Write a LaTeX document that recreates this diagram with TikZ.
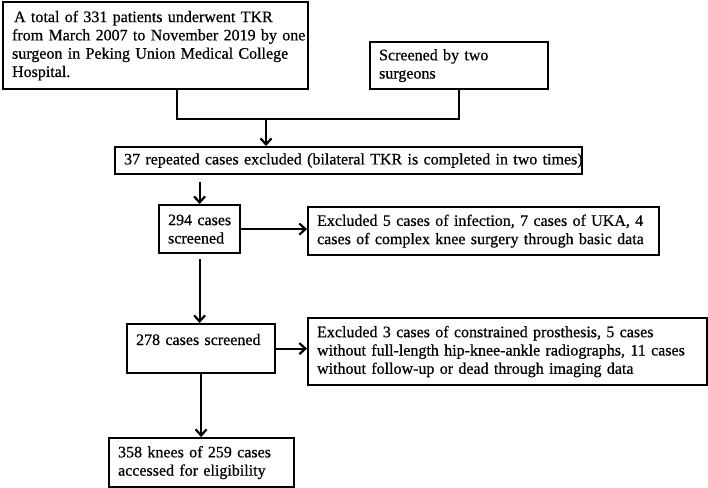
\documentclass[tikz,border=0pt]{standalone}
\usepackage{fontspec}
\setmainfont{Liberation Serif}[FakeBold=0.6]
\usetikzlibrary{arrows.meta,calc}
\begin{document}
\begin{tikzpicture}[x=1pt,y=-1pt,
  box/.style={draw=black, line width=2.2pt, anchor=north west, inner xsep=9pt, inner ysep=2pt,
    align=left, font=\fontsize{16}{18.3}\selectfont},
  conn/.style={line width=2.2pt},
  arr/.style={conn, -{Straight Barb[length=6pt,width=11pt]}}
]
\useasboundingbox (0,0) rectangle (708,487);
\node[box, minimum height=87pt, text width=287pt] (b1) at (2,1)
  {\mbox{\hspace{2pt}A total of 331 patients underwent TKR}\\ \mbox{from March 2007 to November 2019 by one}\\ \mbox{surgeon in Peking Union Medical College}\\ \mbox{Hospital.}};
\node[box, minimum height=47pt, text width=160pt] (b2) at (369,41)
  {\mbox{Screened by two}\\ \mbox{surgeons}};
\node[box, minimum height=27pt, text width=449pt] (b3) at (114,146)
  {\mbox{37 repeated cases excluded (bilateral TKR is completed in two times)}};
\node[box, minimum height=48pt, text width=63pt] (b4) at (158,204)
  {\mbox{294 cases}\\ \mbox{screened}};
\node[box, minimum height=48pt, text width=333pt] (b5) at (307,206)
  {\mbox{Excluded 5 cases of infection, 7 cases of UKA, 4}\\ \mbox{cases of complex knee surgery through basic data}};
\node[box, minimum height=49pt, text width=130pt] (b6) at (126,323)
  {\mbox{278 cases screened}\\ \mbox{}};
\node[box, minimum height=67pt, text width=381pt] (b7) at (307,317)
  {\mbox{Excluded 3 cases of constrained prosthesis, 5 cases}\\ \mbox{without full-length hip-knee-ankle radiographs, 11 cases}\\ \mbox{without follow-up or dead through imaging data}};
\node[box, minimum height=49pt, text width=167pt] (b8) at (108,437)
  {\mbox{358 knees of 259 cases}\\ \mbox{accessed for eligibility}};
\coordinate (jl) at (177,119);
\coordinate (jm) at (266,119);
\draw[conn] (b1.south -| jl) -- (jl) -- (b2.south |- jl) -- (b2.south);
\draw[arr] (jm) -- (jm |- b3.north);
\draw[arr] ($(b3.south -| b4.north)+(0,7)$) -- (b4.north);
\draw[arr] (b4.east) -- (b4.east -| b5.west);
\draw[arr] ($(b4.south)+(0,5)$) -- (b4.south |- b6.north);
\draw[arr] (b6.east) -- (b6.east -| b7.west);
\draw[arr] (b6.south) -- (b6.south |- b8.north);
\end{tikzpicture}
\end{document}
